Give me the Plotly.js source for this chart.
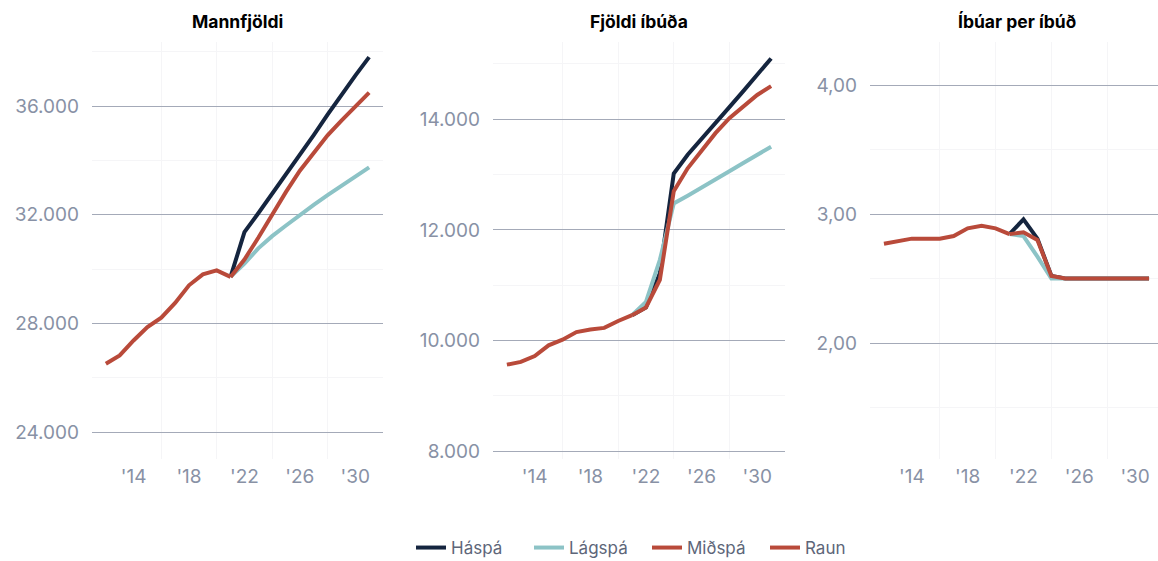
<!DOCTYPE html>
<html lang="is">
<head>
<meta charset="utf-8">
<script src="https://cdn.plot.ly/plotly-3.0.1.min.js"></script>
<style>
  html, body { margin: 0; padding: 0; background: #fff; overflow: hidden; }
  #chart { width: 1165px; height: 561px; }
</style>
</head>
<body>
<div id="chart"></div>
<script>
// Ár
const yearsRaun = [2012, 2013, 2014, 2015, 2016, 2017, 2018, 2019, 2020, 2021];
const yearsSpa = [2021, 2022, 2023, 2024, 2025, 2026, 2027, 2028, 2029, 2030, 2031];
const tickYears = [2014, 2018, 2022, 2026, 2030];
const tickLabels = ["'14", "'18", "'22", "'26", "'30"];
const gridYears = [2016, 2020, 2024, 2028];

// Mannfjöldi
const mannRaun = [26510, 26820, 27370, 27860, 28210, 28750, 29400, 29800, 29950, 29710];
const mannHaspa = [29710, 31360, 32050, 32760, 33480, 34200, 34930, 35680, 36420, 37120, 37800];
const mannLagspa = [29710, 30200, 30760, 31210, 31600, 32000, 32360, 32720, 33060, 33400, 33740];
const mannMidspa = [29710, 30350, 31150, 32000, 32840, 33620, 34300, 34920, 35460, 35980, 36490];

// Fjöldi íbúða
const ibudRaun = [9566, 9615, 9722, 9915, 10018, 10155, 10200, 10230, 10355, 10460];
const ibudHaspa = [10460, 10600, 11220, 13020, 13360, 13640, 13930, 14220, 14510, 14800, 15100];
const ibudLagspa = [10460, 10700, 11460, 12480, 12620, 12760, 12900, 13060, 13210, 13360, 13505];
const ibudMidspa = [10460, 10600, 11100, 12700, 13115, 13445, 13750, 14020, 14240, 14440, 14600];

// Íbúar per íbúð
const perRaun = [2.77, 2.79, 2.81, 2.81, 2.81, 2.83, 2.89, 2.91, 2.89, 2.845];
const perHaspa = [2.845, 2.96, 2.81, 2.52, 2.50, 2.50, 2.50, 2.50, 2.50, 2.50, 2.50];
const perLagspa = [2.845, 2.83, 2.67, 2.50, 2.50, 2.50, 2.50, 2.50, 2.50, 2.50, 2.50];
const perMidspa = [2.845, 2.86, 2.80, 2.52, 2.50, 2.50, 2.50, 2.50, 2.50, 2.50, 2.50];

const litir = {
    haspa: '#15253f',
    lagspa: '#8cc3c6',
    midspa: '#b94a3a',
    raun: '#b94a3a'
};

const W = 1165, H = 561;
const font = 'Inter, "Noto Sans", sans-serif';

// Fjórar línur fyrir hvert graf
function linur(n, raun, ha, lag, mid) {
    const sx = n === 1 ? 'x' : 'x' + n;
    const sy = n === 1 ? 'y' : 'y' + n;
    const vis = n === 1;
    const lina = (x, y, name, color) => ({
        x: x, y: y, name: name, type: 'scatter', mode: 'lines',
        xaxis: sx, yaxis: sy, showlegend: vis, legendgroup: name,
        line: { color: color, width: 4 },
        hoverinfo: 'skip'
    });
    return [
        lina(yearsSpa, ha, 'Háspá', litir.haspa),
        lina(yearsSpa, lag, 'Lágspá', litir.lagspa),
        lina(yearsSpa, mid, 'Miðspá', litir.midspa),
        lina(yearsRaun, raun, 'Raun', litir.raun)
    ];
}

const data = [
    ...linur(1, mannRaun, mannHaspa, mannLagspa, mannMidspa),
    ...linur(2, ibudRaun, ibudHaspa, ibudLagspa, ibudMidspa),
    ...linur(3, perRaun, perHaspa, perLagspa, perMidspa)
];

const tickFont = { family: font, size: 19, color: '#8891a5' };
const yDomain = [(H - 459) / H, (H - 42) / H];

function xas(left, right, range) {
    return {
        domain: [left / W, right / W],
        range: range,
        tickmode: 'array',
        tickvals: tickYears,
        ticktext: tickLabels,
        showgrid: false,
        zeroline: false,
        showline: false,
        ticks: '',
        tickfont: tickFont,
        ticklabelstandoff: 4,
        minor: { tickmode: 'array', tickvals: gridYears, showgrid: true, gridcolor: '#f5f5f7', gridwidth: 1, ticks: '' },
        fixedrange: true
    };
}

function yas(anchor, range, dtick, fmt) {
    return {
        anchor: anchor,
        domain: yDomain,
        range: range,
        dtick: dtick,
        tick0: 0,
        tickformat: fmt,
        showgrid: true,
        gridcolor: '#a4aab8',
        gridwidth: 1,
        zeroline: false,
        showline: false,
        ticks: '',
        tickfont: tickFont,
        ticklabelstandoff: 12,
        minor: { dtick: dtick / 2, tick0: 0, showgrid: true, gridcolor: '#f5f5f7', gridwidth: 1, ticks: '' },
        fixedrange: true
    };
}

function titill(text, cx) {
    return {
        text: '<b>' + text + '</b>',
        xref: 'paper', yref: 'paper',
        x: cx / W, y: (H - 22) / H,
        xanchor: 'center', yanchor: 'middle',
        showarrow: false,
        font: { family: font, size: 17.5, color: '#000000' }
    };
}

const layout = {
    width: W,
    height: H,
    margin: { l: 0, r: 0, t: 0, b: 0, autoexpand: false },
    paper_bgcolor: '#ffffff',
    plot_bgcolor: '#ffffff',
    separators: ',.',
    showlegend: true,
    legend: {
        orientation: 'h',
        x: 411 / W, xanchor: 'left',
        y: (H - 548) / H, yanchor: 'middle',
        entrywidth: 73,
        entrywidthmode: 'pixels',
        font: { family: font, size: 17, color: '#5d6679' },
        bgcolor: 'rgba(0,0,0,0)'
    },
    xaxis: xas(92, 383, [2011, 2032]),
    xaxis2: Object.assign(xas(493, 785, [2011, 2032]), { anchor: 'y2' }),
    xaxis3: Object.assign(xas(870, 1163, [2011, 2032]), { anchor: 'y3' }),
    yaxis: yas('x', [23006, 38356], 4000, ',d'),
    yaxis2: yas('x2', [7861, 15397], 2000, ',d'),
    yaxis3: yas('x3', [1.100, 4.336], 1, '.2f'),
    annotations: [
        titill('Mannfjöldi', 237.5),
        titill('Fjöldi íbúða', 639),
        titill('Íbúar per íbúð', 1016.5)
    ]
};

Plotly.newPlot('chart', data, layout, { displayModeBar: false, staticPlot: true });
</script>
</body>
</html>
